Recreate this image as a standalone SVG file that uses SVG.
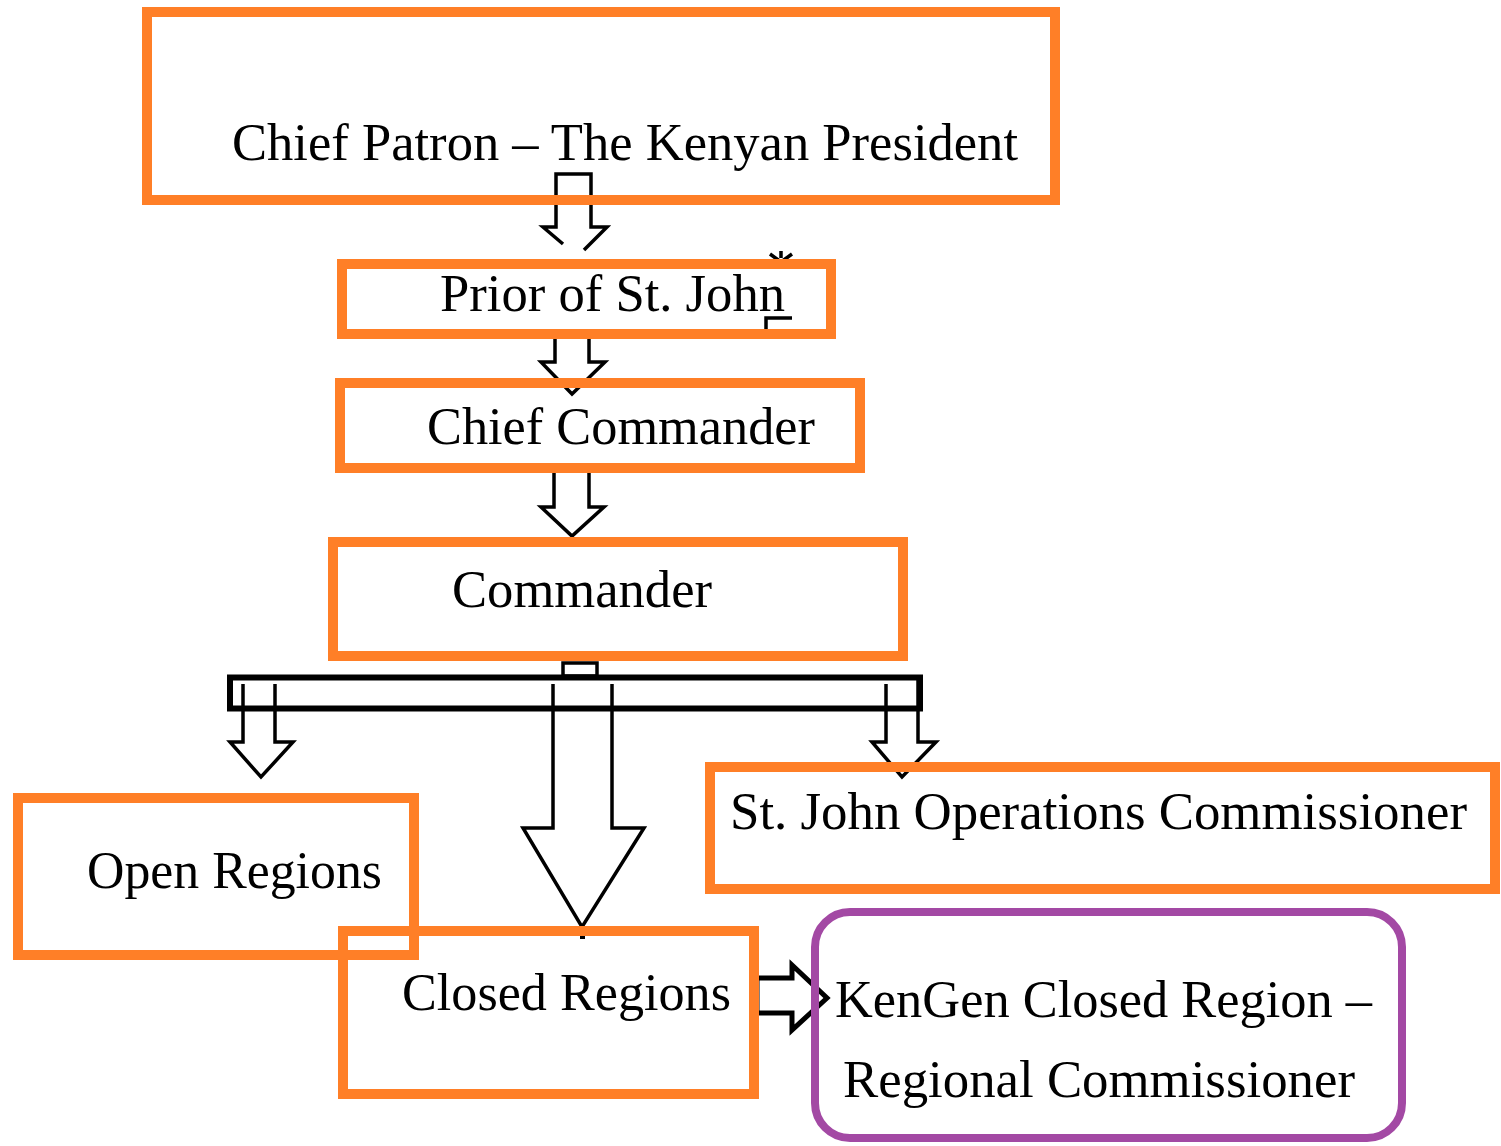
<svg xmlns="http://www.w3.org/2000/svg" width="1501" height="1146" viewBox="0 0 1501 1146">
<style>
.box{fill:none;stroke:#FF7F27;stroke-width:10}
.rbox{fill:none;stroke:#A349A4;stroke-width:8}
.arr{fill:none;stroke:#000;stroke-width:3.5;stroke-linejoin:miter}
.t{font-family:"Liberation Serif","Times New Roman",serif;font-size:52px;fill:#000}
</style>
<rect width="1501" height="1146" fill="#fff"/>
<g id="connectors">
<path class="arr" d="M563,244 L543,227 H556 V174 H591 V227 H607 L584,250"/>
<path class="arr" d="M770,254 L781,262 L792,254 M781,251 V258"/>
<path class="arr" d="M792,318 H766 V330"/>
<path class="arr" d="M555,337 V362 H541 L572,394 L605,362 H589 V337"/>
<path class="arr" d="M554,471 V507 H541 L572,536 L604,507 H589 V471"/>
<rect x="563" y="663" width="34" height="13" class="arr"/>
<rect x="230" y="677.5" width="690" height="31" fill="none" stroke="#000" stroke-width="6"/>
<path class="arr" d="M243,684 V742 H230 L261,777 L293,742 H275 V684"/>
<path class="arr" d="M553,684 V828 H523 L582,927 L644,828 H612 V684"/>
<rect x="580" y="934" width="5" height="5" fill="#000"/>
<path class="arr" d="M886,684 V742 H872 L902,777 L936,742 H918 V676"/>
<path d="M757,978 H792 V965 L827,998 L792,1030 V1013 H757 Z" fill="#fff" stroke="#000" stroke-width="5" stroke-linejoin="miter"/>
</g>
<g id="node-chief-patron">
<rect class="box" x="147" y="12" width="908" height="188"/>
<text class="t" x="232" y="160" textLength="786" lengthAdjust="spacingAndGlyphs">Chief Patron – The Kenyan President</text>
</g>
<g id="node-prior">
<rect class="box" x="342" y="264" width="489" height="70"/>
<text class="t" x="440" y="311" textLength="345" lengthAdjust="spacingAndGlyphs">Prior of St. John</text>
</g>
<g id="node-chief-commander">
<rect class="box" x="340" y="383" width="520" height="85"/>
<text class="t" x="427" y="444" textLength="388" lengthAdjust="spacingAndGlyphs">Chief Commander</text>
</g>
<g id="node-commander">
<rect class="box" x="333" y="542" width="570" height="114"/>
<text class="t" x="452" y="607" textLength="260" lengthAdjust="spacingAndGlyphs">Commander</text>
</g>
<g id="node-operations">
<rect class="box" x="710" y="767" width="785" height="122"/>
<text class="t" x="730" y="829" textLength="737" lengthAdjust="spacingAndGlyphs">St. John Operations Commissioner</text>
</g>
<g id="node-open">
<rect class="box" x="18" y="798" width="396" height="157"/>
<text class="t" x="87" y="888" textLength="295" lengthAdjust="spacingAndGlyphs">Open Regions</text>
</g>
<g id="node-closed">
<rect class="box" x="343" y="931" width="411" height="163"/>
<text class="t" x="402" y="1010" textLength="329" lengthAdjust="spacingAndGlyphs">Closed Regions</text>
</g>
<g id="node-kengen">
<rect class="rbox" x="815" y="912" width="587" height="226" rx="35" ry="35"/>
<text class="t" x="835" y="1017" textLength="537" lengthAdjust="spacingAndGlyphs">KenGen Closed Region –</text>
<text class="t" x="843" y="1097" textLength="512" lengthAdjust="spacingAndGlyphs">Regional Commissioner</text>
</g>
</svg>
